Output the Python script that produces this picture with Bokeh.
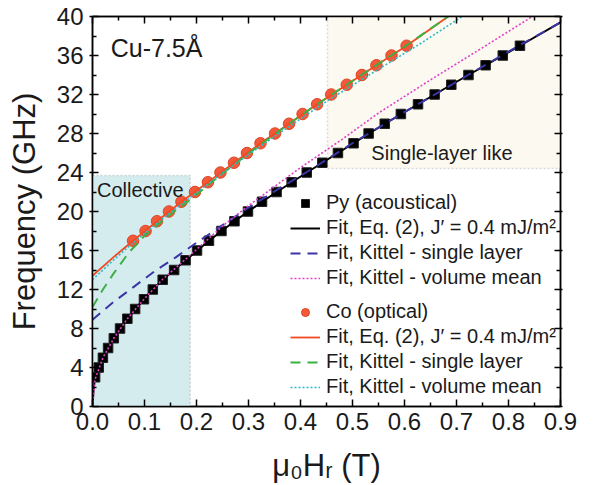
from bokeh.plotting import figure
from bokeh.models import (Legend, LegendItem, LinearAxis, FixedTicker, PrintfTickFormatter,
                          BoxAnnotation, Label, Range1d)
from bokeh.embed import file_html
from bokeh.resources import INLINE

FONT = "Liberation Sans"

# Measured resonances: field (T) and frequency (GHz)
py_field = [0.005, 0.012, 0.020, 0.030, 0.041, 0.053, 0.067, 0.082, 0.099, 0.116,
            0.135, 0.157, 0.179, 0.201, 0.224, 0.248, 0.273, 0.299, 0.326, 0.354,
            0.383, 0.412, 0.442, 0.472, 0.502, 0.531, 0.562, 0.593, 0.626, 0.658,
            0.690, 0.723, 0.756, 0.789, 0.822]
py_freq = [3, 4, 5, 6, 7, 8, 9, 10, 11, 12, 13, 14, 15, 16, 17, 18, 19, 20, 21, 22,
           23, 24, 25, 26, 27, 28, 29, 30, 31, 32, 33, 34, 35, 36, 37]

co_field = [0.078, 0.102, 0.124, 0.147, 0.171, 0.197, 0.222, 0.246, 0.272, 0.297,
            0.323, 0.351, 0.378, 0.404, 0.432, 0.459, 0.489, 0.518, 0.546, 0.575, 0.604]
co_freq = [17, 18, 19, 20, 21, 22, 23, 24, 25, 26, 27, 28, 29, 30, 31, 32, 33, 34,
           35, 36, 37]

# Fit curves for Py
py_eq2_field = [0, 0.002, 0.005, 0.012, 0.020, 0.030, 0.041, 0.053, 0.067, 0.082, 0.099,
                0.116, 0.135, 0.157, 0.179, 0.224, 0.273, 0.326, 0.383, 0.442, 0.502,
                0.562, 0.626, 0.690, 0.756, 0.822, 0.9]
py_eq2_freq = [0, 1.7, 3.0, 4.0, 5.0, 6.0, 7.0, 8.0, 9.0, 10.0, 11.0, 12.0, 13.0, 14.0,
               15.0, 17.0, 19.0, 21.0, 23.0, 25.0, 27.0, 29.0, 31.0, 33.0, 35.0, 37.0, 39.4]

py_single_field = [0, 0.04, 0.08, 0.12, 0.16, 0.20, 0.25, 0.30, 0.36, 0.42, 0.50, 0.60,
                   0.70, 0.80, 0.90]
py_single_freq = [8.9, 10.7, 12.3, 13.9, 15.3, 16.8, 18.6, 20.4, 22.4, 24.3, 27.0, 30.2,
                  33.3, 36.4, 39.4]

py_mean_field = [0, 0.005, 0.020, 0.041, 0.067, 0.099, 0.135, 0.179, 0.25, 0.30, 0.40,
                 0.48, 0.55, 0.65, 0.75, 0.846]
py_mean_freq = [0, 2.8, 5.0, 7.0, 9.0, 11.0, 13.05, 15.1, 18.5, 20.6, 24.5, 27.4, 30.1,
                33.5, 36.8, 40.0]

# Fit curves for Co
co_eq2_field = [0, 0.04, 0.078, 0.124, 0.171, 0.222, 0.272, 0.323, 0.378, 0.432, 0.489,
                0.546, 0.604, 0.684]
co_eq2_freq = [13.4, 15.3, 17, 19, 21, 23, 25, 27, 29, 31, 33, 35, 37, 40]

co_single_field = [0, 0.02, 0.04, 0.07, 0.10, 0.14, 0.19, 0.25, 0.30, 0.35, 0.40, 0.46,
                   0.52, 0.60, 0.684]
co_single_freq = [10.2, 12.0, 13.6, 15.8, 17.5, 19.3, 21.3, 23.9, 25.95, 27.9, 29.85,
                  32.0, 34.1, 36.9, 40.0]

co_mean_field = [0, 0.04, 0.078, 0.15, 0.25, 0.35, 0.45, 0.55, 0.63, 0.711]
co_mean_freq = [13.0, 15.0, 16.8, 19.9, 23.95, 27.7, 31.3, 34.6, 37.2, 40.0]

# Regime boxes: (left, right, bottom, top)
collective_box = [0.0, 0.188, 0.0, 23.7]
single_box = [0.452, 0.9, 24.4, 40.0]

x_ticks = [0.0, 0.1, 0.2, 0.3, 0.4, 0.5, 0.6, 0.7, 0.8, 0.9]
x_minor = [0.05, 0.15, 0.25, 0.35, 0.45, 0.55, 0.65, 0.75, 0.85]
y_ticks = [0, 4, 8, 12, 16, 20, 24, 28, 32, 36, 40]
y_minor = [2, 6, 10, 14, 18, 22, 26, 30, 34, 38]

p = figure(width=597, height=485, x_range=Range1d(0, 0.9), y_range=Range1d(0, 40),
           output_backend="svg", toolbar_location=None,
           min_border_left=92, min_border_right=37, min_border_top=16,
           min_border_bottom=79)
p.xgrid.visible = False
p.ygrid.visible = False
p.outline_line_color = "black"
p.outline_line_width = 1.5
p.background_fill_color = "white"
p.border_fill_color = "white"

# shaded regimes
p.add_layout(BoxAnnotation(left=collective_box[0], right=collective_box[1],
                           bottom=collective_box[2], top=collective_box[3],
                           fill_color="#d5ecef", fill_alpha=1.0,
                           line_color="#888888", line_dash="2 2", line_width=1.5,
                           level="underlay"))
p.add_layout(BoxAnnotation(left=single_box[0], right=single_box[1],
                           bottom=single_box[2], top=single_box[3],
                           fill_color="#fcfaf0", fill_alpha=1.0,
                           line_color="#888888", line_dash="2 2", line_width=1.5,
                           level="underlay"))

# measured points
py_pts = p.scatter(py_field, py_freq, marker="square", size=9.5, fill_color="black",
                   line_color="#222222")
co_pts = p.scatter(co_field, co_freq, marker="circle", size=11.5, fill_color="#f2583a",
                   line_color="#dd4422", line_width=1)

# fits
py_eq2 = p.line(py_eq2_field, py_eq2_freq, line_color="black", line_width=2)
py_single = p.line(py_single_field, py_single_freq, line_color="#3b35a6", line_width=2,
                   line_dash="10 7")
py_mean = p.line(py_mean_field, py_mean_freq, line_color="#e040c8", line_width=1.6,
                 line_dash="2 2")
co_eq2 = p.line(co_eq2_field, co_eq2_freq, line_color="#f04a23", line_width=1.8)
co_single = p.line(co_single_field, co_single_freq, line_color="#3cb043", line_width=2,
                   line_dash="10 7")
co_mean = p.line(co_mean_field, co_mean_freq, line_color="#2fb8c8", line_width=1.6,
                 line_dash="2 2")

# axes
xa = p.xaxis[0]
xa.ticker = FixedTicker(ticks=x_ticks, minor_ticks=x_minor)
xa.formatter = PrintfTickFormatter(format="%.1f")
ya = p.yaxis[0]
ya.ticker = FixedTicker(ticks=y_ticks, minor_ticks=y_minor)
for ax in (xa, ya):
    ax.axis_line_width = 1.5
    ax.major_tick_line_width = 1.5
    ax.minor_tick_line_width = 1.5
    ax.major_label_text_font = FONT
    ax.major_label_text_font_size = "24px"
    ax.major_label_text_color = "#1a1a1a"
    ax.axis_label_text_font = FONT
    ax.axis_label_text_font_size = "31px"
    ax.axis_label_text_font_style = "normal"
    ax.axis_label_text_color = "#1a1a1a"
xa.major_tick_in = 7
xa.major_tick_out = 0
xa.minor_tick_in = 4
xa.minor_tick_out = 0
xa.major_label_standoff = 6
xa.axis_label = "μ₀Hᵣ (T)"
xa.axis_label_standoff = 15
ya.major_tick_in = 6
ya.major_tick_out = 3
ya.minor_tick_in = 4
ya.minor_tick_out = 0
ya.major_label_standoff = 6
ya.axis_label = "Frequency (GHz)"
ya.axis_label_standoff = 12

# tick-only frame axes on the top and right
top = LinearAxis(ticker=FixedTicker(ticks=x_ticks, minor_ticks=x_minor),
                 major_label_text_color=None, major_label_text_font_size="1px",
                 major_label_standoff=0,
                 major_tick_in=7, major_tick_out=0, minor_tick_in=4, minor_tick_out=0,
                 axis_line_width=1.5, major_tick_line_width=1.5, minor_tick_line_width=1.5)
right = LinearAxis(ticker=FixedTicker(ticks=y_ticks, minor_ticks=y_minor),
                   major_label_text_color=None, major_label_text_font_size="1px",
                   major_label_standoff=0,
                   major_tick_in=6, major_tick_out=2, minor_tick_in=4, minor_tick_out=0,
                   axis_line_width=1.5, major_tick_line_width=1.5, minor_tick_line_width=1.5)
p.add_layout(top, "above")
p.add_layout(right, "right")

# annotations
p.add_layout(Label(x=0.035, y=36.8, text="Cu-7.5Å", text_font=FONT,
                   text_font_size="25px", text_baseline="middle", text_color="#1a1a1a"))
p.add_layout(Label(x=0.092, y=22.2, text="Collective", text_font=FONT,
                   text_font_size="20px", text_align="center", text_baseline="middle",
                   text_color="#1a1a1a"))
p.add_layout(Label(x=0.672, y=26.0, text="Single-layer like", text_font=FONT,
                   text_font_size="20px", text_align="center", text_baseline="middle",
                   text_color="#1a1a1a"))

fit_label = "Fit, Eq. (2), J′ = 0.4 mJ/m²"


def make_legend(items, loc):
    leg = Legend(items=items, location=loc, label_text_font=FONT,
                 label_text_font_size="20px", label_text_color="#1a1a1a",
                 glyph_width=30, glyph_height=20, label_height=20, label_standoff=6,
                 spacing=2, padding=0, margin=0, border_line_color=None,
                 background_fill_alpha=0)
    return leg


leg_py = make_legend([
    LegendItem(label="Py (acoustical)", renderers=[py_pts]),
    LegendItem(label=fit_label, renderers=[py_eq2]),
    LegendItem(label="Fit, Kittel - single layer", renderers=[py_single]),
    LegendItem(label="Fit, Kittel - volume mean", renderers=[py_mean]),
], (198, 117))
leg_co = make_legend([
    LegendItem(label="Co (optical)", renderers=[co_pts]),
    LegendItem(label=fit_label, renderers=[co_eq2]),
    LegendItem(label="Fit, Kittel - single layer", renderers=[co_single]),
    LegendItem(label="Fit, Kittel - volume mean", renderers=[co_mean]),
], (198, 8))
p.add_layout(leg_py)
p.add_layout(leg_co)

open("out.html", "w").write(file_html(p, INLINE))
